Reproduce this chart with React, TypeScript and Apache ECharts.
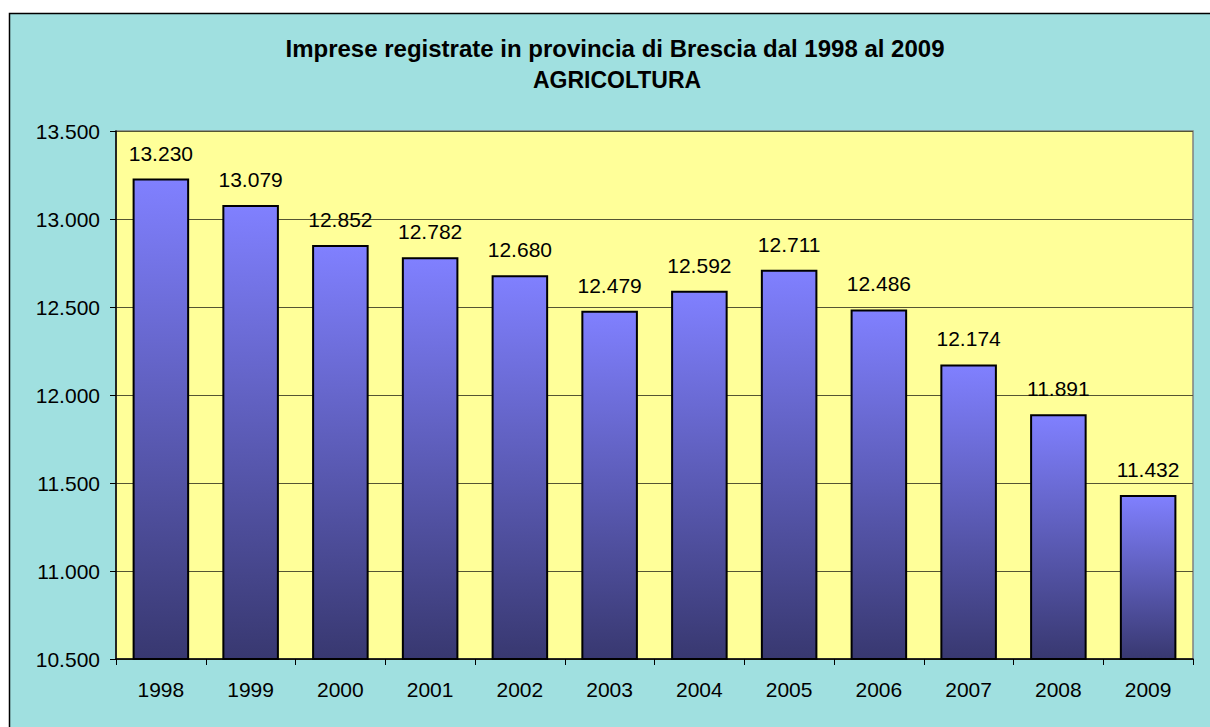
import React, { useEffect, useRef } from "react";
import * as echarts from "echarts";

const years = ["1998", "1999", "2000", "2001", "2002", "2003", "2004", "2005", "2006", "2007", "2008", "2009"];
const imprese = [13230, 13079, 12852, 12782, 12680, 12479, 12592, 12711, 12486, 12174, 11891, 11432];
const titleLines = ["Imprese registrate in provincia di Brescia dal 1998 al 2009", "AGRICOLTURA"];

const fmt = (v: number) => {
  const s = String(Math.round(v));
  return s.replace(/\B(?=(\d{3})+(?!\d))/g, ".");
};

export default function App() {
  const ref = useRef<HTMLDivElement>(null);
  useEffect(() => {
    if (!ref.current) return;
    const chart = echarts.init(ref.current, null, { renderer: "svg" });
    const font = "'Liberation Sans', Arial, sans-serif";
    chart.setOption({
      animation: false,
      backgroundColor: "#ffffff",
      graphic: [
        {
          type: "rect",
          shape: { x: 9.5, y: 13.5, width: 1220, height: 730 },
          style: { fill: "#a0e0e0", stroke: "#000000", lineWidth: 1.5 },
          z: -10,
          silent: true,
        },
        {
          type: "text",
          x: 615,
          y: 48,
          style: {
            text: titleLines[0],
            fontFamily: font,
            fontSize: 24,
            fontWeight: "bold",
            fill: "#000",
            align: "center",
            verticalAlign: "middle",
          },
        },
        {
          type: "text",
          x: 617,
          y: 80,
          style: {
            text: titleLines[1],
            fontFamily: font,
            fontSize: 23,
            fontWeight: "bold",
            fill: "#000",
            align: "center",
            verticalAlign: "middle",
          },
        },
      ],
      grid: {
        left: 116,
        top: 131,
        right: 17,
        bottom: 68,
        show: true,
        backgroundColor: "#ffff99",
        borderColor: "#808080",
        borderWidth: 1.5,
      },
      xAxis: {
        type: "category",
        data: years,
        axisLine: { lineStyle: { color: "#000", width: 1.5 } },
        axisTick: { show: true, length: 6, lineStyle: { color: "#000" } },
        axisLabel: { fontFamily: font, fontSize: 21, color: "#000", margin: 20 },
      },
      yAxis: {
        type: "value",
        min: 10500,
        max: 13500,
        interval: 500,
        axisLine: { show: true, lineStyle: { color: "#000", width: 1.5 } },
        axisTick: { show: true, length: 6, lineStyle: { color: "#000" } },
        axisLabel: { fontFamily: font, fontSize: 21, color: "#000", margin: 16, formatter: (v: number) => fmt(v) },
        splitLine: { show: true, lineStyle: { color: "#555533", width: 1 } },
      },
      series: [
        {
          type: "bar",
          data: imprese,
          barCategoryGap: "37%",
          itemStyle: {
            borderColor: "#000",
            borderWidth: 2,
            color: {
              type: "linear",
              x: 0,
              y: 0,
              x2: 0,
              y2: 1,
              colorStops: [
                { offset: 0, color: "#8080ff" },
                { offset: 1, color: "#383870" },
              ],
            },
          },
          label: {
            show: true,
            position: "top",
            distance: 15,
            fontFamily: font,
            fontSize: 21,
            color: "#000",
            formatter: (p: any) => fmt(p.value),
          },
        },
      ],
    });
    return () => chart.dispose();
  }, []);
  return <div ref={ref} style={{ position: "fixed", left: 0, top: 0, width: 1210, height: 727 }} />;
}
